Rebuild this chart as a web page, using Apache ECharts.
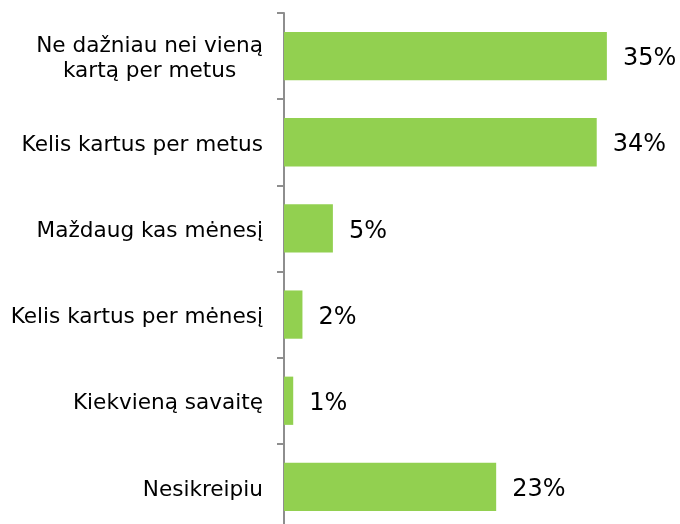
<!DOCTYPE html>
<html><head><meta charset="utf-8">
<script src="https://cdn.jsdelivr.net/npm/echarts@6/dist/echarts.min.js"></script>
<style>html,body{margin:0;padding:0;background:#fff}#c{width:680px;height:524px}</style>
</head><body><div id="c"></div>
<script>
const categories = ["Ne dažniau nei vieną\nkartą per metus", "Kelis kartus per metus", "Maždaug kas mėnesį", "Kelis kartus per mėnesį", "Kiekvieną savaitę", "Nesikreipiu"];
const values = [35, 33.9, 5.3, 2, 1, 23];
const valueLabels = ["35%", "34%", "5%", "2%", "1%", "23%"];

const chart = echarts.init(document.getElementById('c'), null, {renderer: 'canvas'});
chart.setOption({
  animation: false,
  grid: {left: 284, top: 13, width: 369, height: 517, containLabel: false, outerBoundsMode: 'none'},
  xAxis: {type: 'value', min: 0, max: 40, show: false},
  yAxis: {
    type: 'category', data: categories, inverse: true,
    axisLine: {lineStyle: {color: '#8e8e8e', width: 2}},
    axisTick: {show: true, length: 7, lineStyle: {color: '#8e8e8e', width: 2}},
    axisLabel: {
      margin: 21, align: 'right', padding: [6, 0, 0, 0],
      formatter: v => v.split('\n').map(s => '{c|' + s + '}').join('\n'),
      rich: {c: {fontFamily: 'DejaVu Sans', fontSize: 21.6, color: '#000', lineHeight: 25, align: 'center'}}
    }
  },
  series: [{
    type: 'bar', data: values, barCategoryGap: '44%',
    itemStyle: {color: '#92D050'},
    label: {show: true, position: 'right', distance: 16, offset: [0, 3], formatter: p => valueLabels[p.dataIndex], fontFamily: 'DejaVu Sans', fontSize: 24, color: '#000'}
  }]
});
</script></body></html>
